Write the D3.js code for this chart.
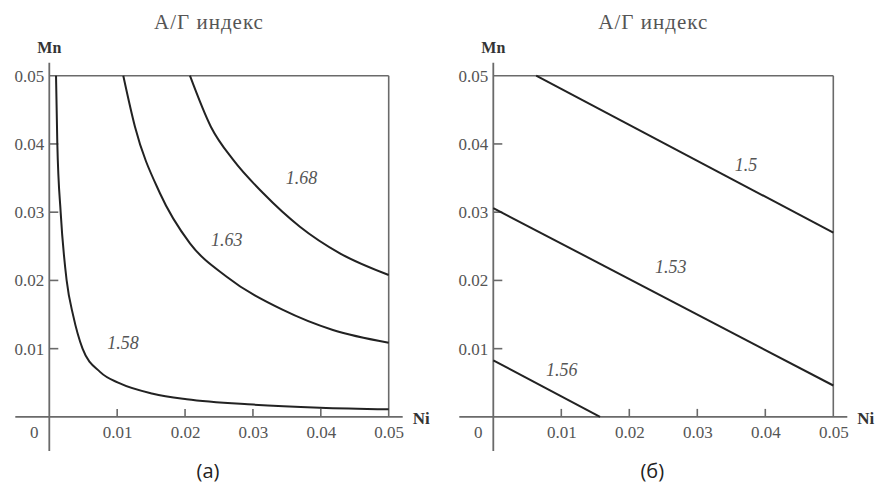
<!DOCTYPE html>
<html>
<head>
<meta charset="utf-8">
<script src="https://cdn.jsdelivr.net/npm/d3@7"></script>
<style>
html,body{margin:0;padding:0;background:#fff;}
svg{display:block;}
svg text{font-family:"Liberation Serif","Times New Roman",serif;}
svg text.sans{font-family:"Open Sans","Noto Sans",sans-serif;}
</style>
</head>
<body>
<svg id="chart" width="883" height="486"></svg>
<script>
// ---- data ----
const titleText = "А/Г индекс";
const xName = "Ni";
const yName = "Mn";
const niTicks = [0.01, 0.02, 0.03, 0.04, 0.05];
const mnTicks = [0.01, 0.02, 0.03, 0.04, 0.05];
const panelLabels = ["(a)", "(б)"];

// panel (a): curved iso-lines
const aLevels = ["1.58", "1.63", "1.68"];
const a158Ni = [0.00099, 0.00118, 0.00168, 0.00256, 0.00353, 0.0049, 0.00747, 0.0104, 0.01527, 0.02024, 0.03004, 0.03987, 0.05];
const a158Mn = [0.05, 0.0401, 0.0299, 0.01996, 0.0148, 0.0100, 0.0066, 0.0049, 0.0034, 0.00258, 0.00180, 0.00135, 0.00111];
const a163Ni = [0.0109, 0.01262, 0.0163, 0.02072, 0.02613, 0.03442, 0.04178, 0.05];
const a163Mn = [0.05, 0.04253, 0.03277, 0.02544, 0.02054, 0.01567, 0.01273, 0.01087];
const a168Ni = [0.02072, 0.0238, 0.0271, 0.03152, 0.03692, 0.04281, 0.05];
const a168Mn = [0.05, 0.04253, 0.03765, 0.03277, 0.02787, 0.02397, 0.0208];
const aLabelNi = [0.01085, 0.02613, 0.03717];
const aLabelMn = [0.01083, 0.02592, 0.0350];

// panel (б): straight iso-lines
const bLevels = ["1.56", "1.53", "1.5"];
const b156Ni = [0.0, 0.0157];
const b156Mn = [0.0083, 0.0];
const b153Ni = [0.0, 0.05];
const b153Mn = [0.0306, 0.0046];
const b150Ni = [0.0063, 0.05];
const b150Mn = [0.05, 0.027];
const bLabelNi = [0.01006, 0.02609, 0.03716];
const bLabelMn = [0.00687, 0.0220, 0.0369];

// ---- drawing ----
const svg = d3.select("#chart");
const AXIS = "#6a6a6a", CURVE = "#222", TXT = "#555";

function zip(xs, ys){ return xs.map((x,i)=>({x, y: ys[i]})); }

const panels = [
  { left: 49.3, right: 388.7, label: panelLabels[0],
    curves: [zip(a158Ni,a158Mn), zip(a163Ni,a163Mn), zip(a168Ni,a168Mn)],
    levels: aLevels, lx: aLabelNi, ly: aLabelMn },
  { left: 493.3, right: 833.3, label: panelLabels[1],
    curves: [zip(b156Ni,b156Mn), zip(b153Ni,b153Mn), zip(b150Ni,b150Mn)],
    levels: bLevels, lx: bLabelNi, ly: bLabelMn }
];

const yBottom = 416.9, yTop = 75.7;

panels.forEach(p => {
  const x = d3.scaleLinear().domain([0, 0.05]).range([p.left, p.right]);
  const y = d3.scaleLinear().domain([0, 0.05]).range([yBottom, yTop]);
  const g = svg.append("g");

  // frame: top and right borders
  g.append("line").attr("x1", x(0)).attr("x2", x(0.05)).attr("y1", y(0.05)).attr("y2", y(0.05))
    .attr("stroke", AXIS).attr("stroke-width", 1.6);
  g.append("line").attr("x1", x(0.05)).attr("x2", x(0.05)).attr("y1", y(0.05)).attr("y2", y(0))
    .attr("stroke", AXIS).attr("stroke-width", 1.6);

  // x axis (ticks inward, labels below)
  const xAxis = d3.axisBottom(x).tickValues(niTicks).tickSize(0).tickFormat(d3.format(".2f"));
  const xg = g.append("g").attr("transform", `translate(0,${y(0)})`).call(xAxis);
  xg.attr("font-family", null).attr("font-size", null);
  xg.select(".domain").remove();
  xg.selectAll("text").style("font-size", "17px").attr("fill", TXT).attr("dy", null).attr("y", 21);
  niTicks.filter(t => t < 0.05).forEach(t => {
    g.append("line").attr("x1", x(t)).attr("x2", x(t)).attr("y1", y(0)).attr("y2", y(0) - 8)
      .attr("stroke", AXIS).attr("stroke-width", 1.6);
  });
  g.append("line").attr("x1", x(0) - 34).attr("x2", x(0.05) + 14).attr("y1", y(0)).attr("y2", y(0))
    .attr("stroke", AXIS).attr("stroke-width", 1.6);

  // y axis (ticks inward, labels left)
  const yAxis = d3.axisLeft(y).tickValues(mnTicks).tickSize(0).tickPadding(5).tickFormat(d3.format(".2f"));
  const yg = g.append("g").attr("transform", `translate(${x(0)},0)`).call(yAxis);
  yg.attr("font-family", null).attr("font-size", null);
  yg.select(".domain").remove();
  yg.selectAll("text").style("font-size", "17px").attr("fill", TXT);
  mnTicks.filter(t => t < 0.05).forEach(t => {
    g.append("line").attr("x1", x(0)).attr("x2", x(0) + 9).attr("y1", y(t)).attr("y2", y(t))
      .attr("stroke", AXIS).attr("stroke-width", 1.6);
  });
  g.append("line").attr("x1", x(0)).attr("x2", x(0)).attr("y1", y(0.05) - 13).attr("y2", y(0) + 34)
    .attr("stroke", AXIS).attr("stroke-width", 1.8);

  // origin label
  g.append("text").attr("x", x(0) - 15).attr("y", y(0) + 21).attr("text-anchor", "middle")
    .style("font-size", "17px").attr("fill", TXT).text("0");

  // axis names
  g.append("text").attr("x", x(0.05) + 24).attr("y", y(0) + 7)
    .style("font-weight", "bold").style("font-size", "17px").attr("fill", "#333").text(xName);
  g.append("text").attr("x", x(0)).attr("y", y(0.05) - 23).attr("text-anchor", "middle")
    .style("font-weight", "bold").style("font-size", "16px").attr("fill", "#333").text(yName);

  // title
  g.append("text").attr("x", (x(0) + x(0.05)) / 2 - 10).attr("y", 29).attr("text-anchor", "middle")
    .style("font-size", "21px").style("letter-spacing", "1px").attr("fill", TXT).text(titleText);

  // panel label
  g.append("text").attr("class", "sans").attr("x", (x(0) + x(0.05)) / 2 - 11).attr("y", 478).attr("text-anchor", "middle")
    .style("font-size", "20px").attr("fill", "#222").text(p.label);

  // curves
  const line = d3.line().x(d => x(d.x)).y(d => y(d.y)).curve(d3.curveMonotoneX);
  p.curves.forEach(c => {
    g.append("path").attr("d", line(c)).attr("fill", "none").attr("stroke", CURVE).attr("stroke-width", 2);
  });

  // curve labels
  p.levels.forEach((lv, i) => {
    g.append("text").attr("x", x(p.lx[i])).attr("y", y(p.ly[i])).attr("dy", "0.35em").attr("text-anchor", "middle")
      .style("font-style", "italic").style("font-size", "18px").attr("fill", TXT).text(lv);
  });
});
</script>
</body>
</html>
